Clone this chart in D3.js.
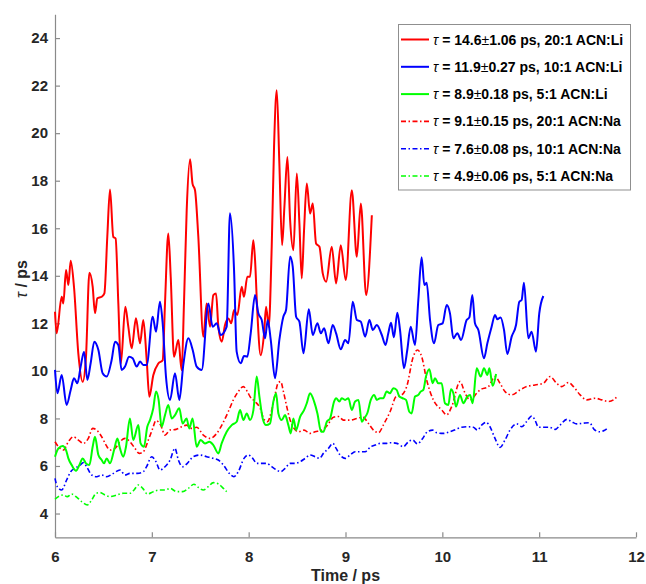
<!DOCTYPE html>
<html>
<head>
<meta charset="utf-8">
<script src="https://cdn.jsdelivr.net/npm/d3@7"></script>
<style>
  html, body { margin: 0; padding: 0; background: #fff; }
  svg { display: block; font-family: "Liberation Sans", Arial, sans-serif; }
</style>
</head>
<body>
<svg id="chart" width="646" height="584"></svg>
<script>
// ---------------- data ----------------
const xTicks = [6, 7, 8, 9, 10, 11, 12];
const yTicks = [4, 6, 8, 10, 12, 14, 16, 18, 20, 22, 24];
const xDomain = [6, 12];
const yDomain = [3, 25];

const seriesNames = [
  "20:1 ACN:Li", "10:1 ACN:Li", "5:1 ACN:Li",
  "20:1 ACN:Na", "10:1 ACN:Na", "5:1 ACN:Na"
];
const tauValues = ["14.6", "11.9", "8.9", "9.1", "7.6", "4.9"];
const tauErrors = ["1.06", "0.27", "0.18", "0.15", "0.08", "0.06"];
const seriesColors = ["#ff0000", "#0000ff", "#00ff00", "#ff0000", "#0000ff", "#00ff00"];
const seriesDashed = [false, false, false, true, true, true];

const li20 = [[6.0,12.49],[6.017,11.58],[6.069,13.12],[6.086,12.84],[6.114,14.24],[6.138,13.61],[6.162,14.63],[6.196,13.54],[6.241,10.73],[6.286,9.54],[6.32,10.59],[6.355,14.13],[6.389,13.54],[6.413,12.42],[6.437,13.05],[6.482,13.12],[6.51,13.26],[6.54,15.64],[6.568,17.63],[6.602,15.64],[6.626,15.57],[6.654,12.84],[6.68,10.31],[6.726,12.70],[6.757,11.86],[6.792,10.95],[6.836,12.21],[6.878,11.16],[6.912,12.14],[6.947,10.45],[6.974,8.91],[7.015,9.82],[7.067,10.31],[7.112,10.45],[7.136,12.84],[7.17,15.78],[7.195,13.96],[7.229,10.59],[7.274,11.30],[7.308,10.03],[7.332,12.84],[7.36,16.76],[7.395,18.9],[7.42,17.88],[7.446,17.6],[7.48,15.64],[7.532,11.44],[7.566,12.84],[7.601,11.86],[7.635,13.19],[7.663,13.26],[7.687,11.86],[7.722,11.23],[7.756,11.93],[7.79,12.2],[7.82,12.0],[7.849,12.56],[7.883,12.35],[7.928,13.54],[7.952,13.12],[7.986,13.96],[8.014,13.96],[8.048,15.5],[8.066,14.66],[8.09,12.42],[8.124,10.66],[8.159,11.58],[8.18,12.7],[8.207,11.86],[8.238,15.22],[8.262,19.42],[8.29,21.81],[8.317,18.72],[8.345,15.29],[8.369,16.90],[8.4,19.0],[8.428,16.34],[8.462,15.08],[8.497,18.3],[8.524,16.2],[8.548,13.89],[8.572,15.92],[8.6,17.88],[8.634,16.62],[8.662,17.04],[8.696,15.36],[8.731,15.22],[8.765,14.1],[8.8,13.75],[8.858,15.22],[8.903,13.68],[8.951,15.29],[9.003,13.82],[9.065,17.6],[9.117,14.8],[9.158,17.04],[9.213,13.19],[9.272,16.55]];

const li10 = [[6.0,10.04],[6.025,9.06],[6.069,9.83],[6.12,8.57],[6.162,9.20],[6.196,9.69],[6.231,9.48],[6.265,10.18],[6.3,10.81],[6.334,9.62],[6.368,10.32],[6.406,11.23],[6.448,10.88],[6.492,9.9],[6.534,9.76],[6.585,10.46],[6.62,11.23],[6.654,11.09],[6.688,10.04],[6.723,10.18],[6.764,10.6],[6.802,10.53],[6.844,10.18],[6.878,10.39],[6.912,10.25],[6.947,10.25],[7.009,12.28],[7.043,11.65],[7.084,12.91],[7.112,12.0],[7.146,9.76],[7.188,8.78],[7.239,9.9],[7.284,8.78],[7.325,10.25],[7.377,11.37],[7.422,10.88],[7.463,10.18],[7.515,10.04],[7.584,12.84],[7.628,11.86],[7.67,12.0],[7.711,11.51],[7.773,11.86],[7.807,16.63],[7.849,14.25],[7.876,10.81],[7.918,10.32],[7.952,10.63],[7.986,10.6],[8.021,11.58],[8.066,13.19],[8.1,12.42],[8.135,12.14],[8.169,11.37],[8.197,12.14],[8.228,11.3],[8.272,9.69],[8.317,11.3],[8.358,12.28],[8.386,12.56],[8.428,14.81],[8.455,14.39],[8.49,12.28],[8.524,12.07],[8.566,10.74],[8.621,12.59],[8.662,11.51],[8.71,12.0],[8.745,11.58],[8.779,11.79],[8.824,11.16],[8.868,11.93],[8.903,11.58],[8.951,10.91],[8.996,11.3],[9.03,11.16],[9.075,12.91],[9.117,12.14],[9.158,12.07],[9.203,11.44],[9.247,12.14],[9.282,11.72],[9.323,11.93],[9.375,11.51],[9.413,11.09],[9.442,11.58],[9.47,12.03],[9.5,11.41],[9.535,12.45],[9.563,11.72],[9.604,10.11],[9.638,10.88],[9.673,11.86],[9.718,11.09],[9.752,12.98],[9.786,14.78],[9.814,13.61],[9.838,13.71],[9.873,12.14],[9.914,11.16],[9.958,11.93],[10.003,12.0],[10.045,12.77],[10.079,12.42],[10.114,11.37],[10.155,11.58],[10.193,11.3],[10.251,12.14],[10.279,12.25],[10.31,13.19],[10.337,12.0],[10.372,11.72],[10.43,10.53],[10.465,11.16],[10.509,11.86],[10.544,12.35],[10.568,12.17],[10.602,12.25],[10.637,11.72],[10.671,10.71],[10.716,11.44],[10.761,11.93],[10.795,12.91],[10.819,12.98],[10.843,13.71],[10.888,11.37],[10.922,11.65],[10.967,10.81],[11.001,12.42],[11.043,13.15]];

const li5 = [[6.0,6.39],[6.035,6.74],[6.079,6.84],[6.114,6.67],[6.138,6.32],[6.172,6.04],[6.217,5.8],[6.252,6.04],[6.286,6.32],[6.32,6.11],[6.355,6.04],[6.389,6.81],[6.413,7.23],[6.448,6.46],[6.482,6.25],[6.506,6.11],[6.534,6.32],[6.568,6.11],[6.61,6.67],[6.644,7.16],[6.671,6.74],[6.706,6.39],[6.733,6.81],[6.774,8.0],[6.808,7.09],[6.861,7.72],[6.884,6.95],[6.919,6.81],[6.953,7.65],[6.981,7.93],[7.015,8.43],[7.043,9.13],[7.07,8.78],[7.101,7.65],[7.136,8.14],[7.17,8.57],[7.205,8.0],[7.239,8.14],[7.283,8.43],[7.318,7.79],[7.359,8.0],[7.386,7.58],[7.421,8.0],[7.463,6.81],[7.504,7.09],[7.549,6.95],[7.594,7.02],[7.635,6.88],[7.687,6.53],[7.721,6.95],[7.773,7.44],[7.825,7.72],[7.876,7.86],[7.911,8.35],[7.946,7.93],[7.98,8.21],[8.014,7.93],[8.049,8.35],[8.083,9.76],[8.111,8.92],[8.145,8.0],[8.18,7.72],[8.221,7.79],[8.255,8.71],[8.283,9.06],[8.307,8.21],[8.341,7.93],[8.376,8.14],[8.41,7.72],[8.434,7.37],[8.462,8.0],[8.49,7.51],[8.531,8.07],[8.572,8.35],[8.6,8.64],[8.634,9.06],[8.676,8.71],[8.71,8.21],[8.748,7.44],[8.772,7.44],[8.807,7.86],[8.841,8.0],[8.882,8.71],[8.903,8.85],[8.937,8.71],[8.961,8.85],[8.996,8.78],[9.03,8.85],[9.065,8.35],[9.099,8.71],[9.134,8.78],[9.168,7.86],[9.192,8.0],[9.227,8.24],[9.261,8.78],[9.296,8.99],[9.323,8.78],[9.358,8.85],[9.39,8.85],[9.425,9.13],[9.459,9.06],[9.494,9.27],[9.528,9.2],[9.556,8.92],[9.59,8.85],[9.625,8.78],[9.659,8.28],[9.683,8.21],[9.718,8.92],[9.752,8.99],[9.776,9.13],[9.804,9.2],[9.831,9.76],[9.866,10.07],[9.9,9.48],[9.924,9.69],[9.958,9.48],[9.993,9.48],[10.027,8.64],[10.062,8.57],[10.089,9.23],[10.114,9.06],[10.141,8.5],[10.182,8.99],[10.217,8.64],[10.258,8.92],[10.286,8.99],[10.313,8.64],[10.355,10.11],[10.396,9.76],[10.43,10.11],[10.465,9.83],[10.486,10.11],[10.52,9.37],[10.555,9.87]];

const na20 = [[6.0,7.02],[6.035,6.81],[6.086,6.67],[6.138,7.02],[6.189,7.23],[6.241,7.09],[6.293,6.95],[6.344,7.16],[6.389,7.58],[6.43,7.51],[6.482,7.23],[6.527,6.88],[6.568,6.67],[6.62,6.74],[6.671,7.02],[6.723,7.16],[6.774,7.02],[6.826,6.74],[6.87,6.53],[6.912,6.6],[6.964,7.09],[7.009,7.58],[7.043,7.91],[7.091,7.72],[7.136,7.3],[7.188,7.51],[7.25,7.54],[7.308,7.65],[7.359,7.72],[7.411,7.58],[7.463,7.63],[7.532,7.3],[7.601,7.16],[7.67,7.37],[7.732,7.79],[7.79,8.29],[7.842,8.78],[7.893,9.13],[7.945,9.34],[7.986,9.13],[8.014,8.92],[8.066,8.71],[8.118,8.43],[8.159,7.96],[8.193,7.86],[8.238,8.35],[8.272,8.99],[8.307,9.51],[8.331,9.55],[8.359,9.13],[8.393,8.5],[8.428,7.93],[8.469,7.58],[8.514,7.44],[8.572,7.51],[8.634,7.37],[8.686,7.44],[8.755,7.51],[8.814,7.72],[8.876,8.05],[8.927,8.08],[8.979,7.93],[9.048,7.93],[9.117,8.0],[9.179,8.05],[9.237,7.79],[9.289,7.51],[9.34,7.4],[9.399,7.79],[9.461,8.29],[9.523,8.92],[9.58,8.99],[9.632,9.34],[9.7,10.6],[9.742,10.88],[9.787,10.6],[9.838,9.62],[9.907,8.78],[9.993,8.36],[10.045,8.15],[10.097,8.5],[10.183,9.55],[10.235,9.06],[10.286,8.78],[10.355,9.06],[10.389,9.2],[10.476,9.34],[10.544,9.76],[10.596,9.48],[10.648,9.13],[10.716,8.99],[10.802,9.2],[10.871,9.34],[10.957,9.41],[11.043,9.48],[11.112,9.76],[11.181,9.48],[11.233,9.34],[11.302,9.51],[11.354,9.34],[11.423,8.99],[11.492,8.78],[11.578,8.85],[11.647,8.78],[11.716,8.71],[11.768,8.78],[11.81,8.94]];

const na10 = [[6.0,5.48],[6.024,5.13],[6.069,4.99],[6.12,5.41],[6.162,5.76],[6.206,5.9],[6.258,6.04],[6.293,6.14],[6.327,5.97],[6.379,5.62],[6.43,5.55],[6.482,5.62],[6.534,5.55],[6.603,5.69],[6.671,5.83],[6.723,5.62],[6.774,5.69],[6.85,5.69],[6.912,5.76],[6.946,5.97],[6.998,6.39],[7.043,6.18],[7.084,5.83],[7.136,5.97],[7.188,6.25],[7.239,6.74],[7.274,6.25],[7.318,5.97],[7.366,6.11],[7.428,6.39],[7.497,6.46],[7.566,6.39],[7.635,6.32],[7.687,6.25],[7.739,6.04],[7.8,5.69],[7.848,5.55],[7.893,5.76],[7.952,6.32],[7.997,6.46],[8.042,6.32],[8.083,6.11],[8.135,6.11],[8.186,6.11],[8.238,5.97],[8.29,5.83],[8.331,5.76],[8.376,5.9],[8.428,6.11],[8.479,6.11],[8.531,6.18],[8.583,6.32],[8.634,6.46],[8.686,6.39],[8.731,6.32],[8.772,6.53],[8.824,6.74],[8.869,6.95],[8.903,6.74],[8.944,6.46],[8.996,6.32],[9.048,6.46],[9.099,6.6],[9.151,6.6],[9.203,6.6],[9.261,6.81],[9.306,6.88],[9.358,6.95],[9.426,6.95],[9.46,6.98],[9.529,6.95],[9.598,6.81],[9.649,7.02],[9.694,7.09],[9.742,6.93],[9.797,7.16],[9.845,7.44],[9.9,7.51],[9.941,7.4],[10.01,7.37],[10.079,7.44],[10.141,7.54],[10.2,7.63],[10.269,7.65],[10.32,7.63],[10.362,7.51],[10.406,7.72],[10.451,7.84],[10.492,7.65],[10.544,7.16],[10.596,6.78],[10.647,7.09],[10.699,7.51],[10.768,7.77],[10.82,7.65],[10.871,7.87],[10.923,8.1],[10.957,7.93],[10.992,7.63],[11.043,7.63],[11.105,7.63],[11.164,7.54],[11.216,7.72],[11.285,7.96],[11.337,7.86],[11.388,7.77],[11.457,7.8],[11.519,7.82],[11.567,7.54],[11.622,7.44],[11.671,7.49],[11.716,7.63]];

const na5 = [[6.0,4.6],[6.035,4.71],[6.086,4.78],[6.127,4.71],[6.172,4.82],[6.217,4.71],[6.275,4.5],[6.334,4.36],[6.379,4.57],[6.424,4.85],[6.465,4.88],[6.516,4.78],[6.568,4.71],[6.637,4.78],[6.705,4.85],[6.774,4.85],[6.816,4.99],[6.861,5.2],[6.906,5.06],[6.954,4.82],[7.015,4.92],[7.077,4.99],[7.136,4.99],[7.188,5.06],[7.256,4.92],[7.318,4.92],[7.377,5.06],[7.435,5.23],[7.48,5.1],[7.532,4.99],[7.583,5.13],[7.635,5.3],[7.687,5.24],[7.739,5.06],[7.773,4.92]];

const seriesData = [li20, li10, li5, na20, na10, na5];

// ---------------- layout ----------------
const svg = d3.select("#chart");
const x = d3.scaleLinear().domain(xDomain).range([55, 636]);
const y = d3.scaleLinear().domain(yDomain).range([537.3, 14.3]);
const axisColor = "#8a8a8a";
const textColor = "#262626";

// axes
const xAxis = svg.append("g").attr("transform", "translate(0,537.3)")
  .call(d3.axisBottom(x).tickValues(xTicks).tickFormat(d3.format("d")).tickSizeInner(-5).tickSizeOuter(0).tickPadding(14));
const yAxis = svg.append("g").attr("transform", "translate(55,0)")
  .call(d3.axisLeft(y).tickValues(yTicks).tickFormat(d3.format("d")).tickSizeInner(-5).tickSizeOuter(0).tickPadding(7));
[xAxis, yAxis].forEach(g => {
  g.select(".domain").attr("stroke", axisColor).attr("stroke-width", 1.2);
  g.selectAll(".tick line").attr("stroke", axisColor).attr("stroke-width", 1.2);
  g.selectAll(".tick text").attr("fill", textColor)
    .style("font-size", "15px").style("font-weight", "bold")
    .style("font-family", "'Liberation Sans', Arial, sans-serif");
});

// axis titles
svg.append("text")
  .attr("x", 345.5).attr("y", 581)
  .attr("text-anchor", "middle")
  .attr("fill", textColor)
  .style("font-size", "16px").style("font-weight", "bold")
  .text("Time / ps");

const yl = svg.append("text")
  .attr("transform", "translate(27,279) rotate(-90)")
  .attr("text-anchor", "middle")
  .attr("fill", textColor)
  .style("font-size", "16px").style("font-weight", "bold");
yl.append("tspan").style("font-style", "italic").style("font-weight", "normal").text("τ");
yl.append("tspan").text(" / ps");

// lines
const line = d3.line()
  .x(d => x(d[0]))
  .y(d => y(d[1]))
  .curve(d3.curveMonotoneX);

const dashPattern = "5,2.5,1.5,2.5";

const order = [3, 4, 5, 0, 1, 2];
order.forEach(i => {
  svg.append("path")
    .datum(seriesData[i])
    .attr("fill", "none")
    .attr("stroke", seriesColors[i])
    .attr("stroke-width", seriesDashed[i] ? 1.6 : 2)
    .attr("stroke-dasharray", seriesDashed[i] ? dashPattern : null)
    .attr("stroke-linejoin", "round")
    .attr("d", line);
});

// legend
const lg = svg.append("g");
lg.append("rect")
  .attr("x", 398.5).attr("y", 24.5)
  .attr("width", 232).attr("height", 165.5)
  .attr("fill", "#fff")
  .attr("stroke", "#8f8f8f").attr("stroke-width", 1);

seriesNames.forEach((name, i) => {
  const yy = 39.5 + i * 27.3;
  lg.append("line")
    .attr("x1", 401).attr("x2", 429)
    .attr("y1", yy).attr("y2", yy)
    .attr("stroke", seriesColors[i])
    .attr("stroke-width", seriesDashed[i] ? 1.6 : 2)
    .attr("stroke-dasharray", seriesDashed[i] ? dashPattern : null);
  const t = lg.append("text")
    .attr("x", 433).attr("y", yy + 5)
    .attr("fill", "#000")
    .style("font-size", "14px").style("font-weight", "bold");
  t.append("tspan").style("font-style", "italic").style("font-weight", "normal").text("τ");
  t.append("tspan").text(" = " + tauValues[i]);
  t.append("tspan").style("font-weight", "normal").text("±");
  t.append("tspan").text(tauErrors[i] + " ps, " + name);
});
</script>
</body>
</html>
